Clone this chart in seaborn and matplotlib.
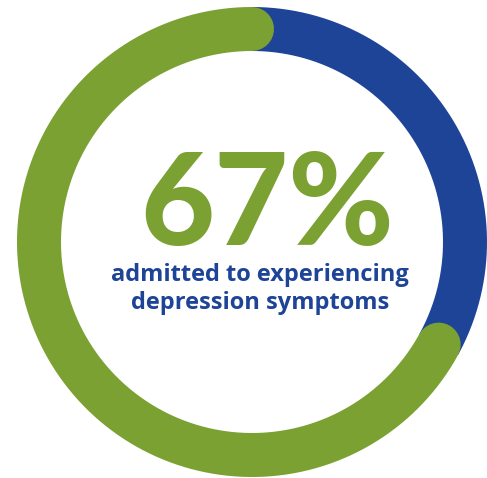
import numpy as np
import matplotlib
matplotlib.use("Agg")
import matplotlib.pyplot as plt
import pandas as pd
import seaborn as sns

# Survey share shown in the ring
labels = ["admitted", "did not"]
shares = [67, 33]
headline = "67%"
caption = ["admitted to experiencing", "depression symptoms"]

GREEN = "#7AA131"
BLUE = "#1E4498"

sns.set_theme(style="white")
plt.rcParams["font.family"] = ["Lato", "DejaVu Sans"]

W, H, DPI = 487, 478, 100
fig = plt.figure(figsize=(W / DPI, H / DPI), dpi=DPI)
ax = fig.add_axes([0, 0, 1, 1])

cx, cy = 252, 242          # ring centre (pixels)
r_mid = 213                # radius of the ring centreline
ring_px = 44               # ring thickness in pixels
ring_pt = ring_px * 72 / DPI


def arc_frame(start_frac, end_frac, name):
    # angles measured clockwise from 12 o'clock, as fractions of a turn
    t = np.linspace(start_frac, end_frac, 400) * 2 * np.pi
    return pd.DataFrame({"x": cx + r_mid * np.sin(t),
                         "y": cy - r_mid * np.cos(t),
                         "part": name})


green_frac = shares[0] / 100
blue_frac = shares[1] / 100

# blue segment: clockwise from the top
blue_df = arc_frame(0, blue_frac, labels[1])
sns.lineplot(data=blue_df, x="x", y="y", sort=False, estimator=None,
             color=BLUE, linewidth=ring_pt, solid_capstyle="butt", ax=ax)

# green segment: the rest of the turn, with rounded ends
green_df = arc_frame(blue_frac, 1.0, labels[0])
sns.lineplot(data=green_df, x="x", y="y", sort=False, estimator=None,
             color=GREEN, linewidth=ring_pt, solid_capstyle="round", ax=ax)

ax.set_xlim(0, W)
ax.set_ylim(H, 0)
ax.set_aspect("equal")
ax.axis("off")

ax.text(267, 245, headline, color=GREEN, fontsize=92, fontweight="black",
        ha="center", va="baseline")
ax.text(260, 281, caption[0], color=BLUE, fontsize=17, fontweight="bold",
        family=["Open Sans", "DejaVu Sans"], ha="center", va="baseline")
ax.text(260, 309, caption[1], color=BLUE, fontsize=17, fontweight="bold",
        family=["Open Sans", "DejaVu Sans"], ha="center", va="baseline")

fig.savefig("out.png", dpi=DPI)
